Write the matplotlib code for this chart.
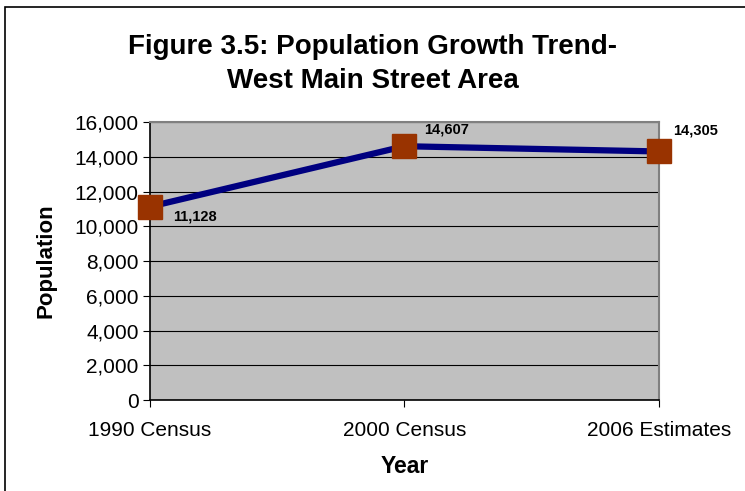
import matplotlib
matplotlib.use("Agg")
import matplotlib.pyplot as plt
from matplotlib.patches import Rectangle
from matplotlib.ticker import FuncFormatter

plt.rcParams["font.family"] = ["Liberation Sans", "DejaVu Sans"]

years = ["1990 Census", "2000 Census", "2006 Estimates"]
population = [11128, 14607, 14305]
yticks = [0, 2000, 4000, 6000, 8000, 10000, 12000, 14000, 16000]

fig = plt.figure(figsize=(7.45, 4.91), dpi=100)
ax = fig.add_axes([0.2013, 0.1853, 0.6832, 0.5662])

# outer chart frame
fig.patches.append(Rectangle((0.007, -0.01), 1.2, 0.996, transform=fig.transFigure,
                             fill=False, edgecolor="black", linewidth=1.2))

x = list(range(len(years)))
ax.set_facecolor("#C0C0C0")
ax.plot(x, population, color="#000080", linewidth=4.5, zorder=3)
ax.plot(x, population, linestyle="none", marker="s", markersize=17,
        color="#993300", zorder=4, clip_on=False)

# data labels
offsets = [(17, -7), (14, 12), (10, 15)]
for xi, v, (dx, dy) in zip(x, population, offsets):
    ax.annotate(f"{v:,}", (xi, v), xytext=(dx, dy), textcoords="offset points",
                fontsize=10.5, fontweight="bold", ha="left", va="center",
                annotation_clip=False)

ax.set_xlim(0, 2)
ax.set_ylim(0, 16000)
ax.set_xticks(x)
ax.set_xticklabels(years, fontsize=15)
ax.set_yticks(yticks)
ax.yaxis.set_major_formatter(FuncFormatter(lambda v, p: f"{int(v):,}"))
ax.tick_params(axis="y", labelsize=15, length=5, direction="out", pad=3)
ax.tick_params(axis="x", length=5, direction="out", pad=10)
ax.grid(axis="y", color="black", linewidth=0.8)
ax.set_axisbelow(True)

for side in ("top", "right"):
    ax.spines[side].set_color("#808080")
    ax.spines[side].set_linewidth(1.5)
for side in ("left", "bottom"):
    ax.spines[side].set_color("black")
    ax.spines[side].set_linewidth(1.2)

ax.set_ylabel("Population", fontsize=16, fontweight="bold", labelpad=13)
ax.set_xlabel("Year", fontsize=16.5, fontweight="bold", labelpad=11)

fig.text(0.5, 0.87, "Figure 3.5: Population Growth Trend-\nWest Main Street Area",
         ha="center", va="center", fontsize=20, fontweight="bold", linespacing=1.37)

fig.savefig("out.png", dpi=100)
